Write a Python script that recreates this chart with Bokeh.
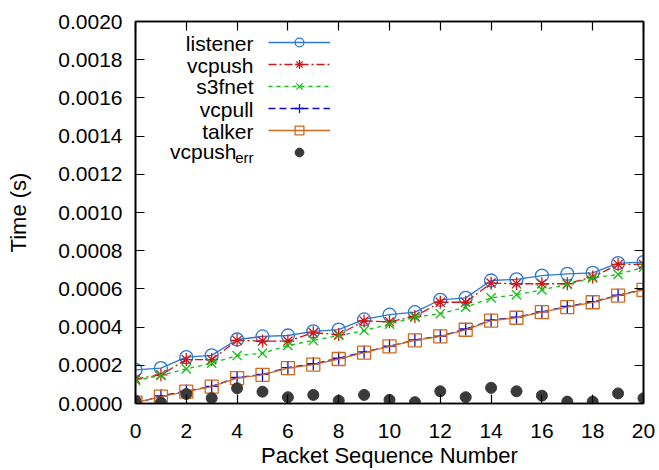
from bokeh.plotting import figure
from bokeh.models import (Range1d, LinearAxis, FixedTicker, NumeralTickFormatter,
                          Legend, LegendItem, Label)
from bokeh.embed import file_html
from bokeh.resources import INLINE

# ---- data ----
seq = list(range(21))
listener = [0.000176, 0.000185, 0.000243, 0.000252, 0.000335, 0.000351, 0.000356, 0.000378,
            0.000387, 0.000440, 0.000465, 0.000478, 0.000543, 0.000553, 0.000644, 0.000650,
            0.000670, 0.000679, 0.000684, 0.000735, 0.000740]
vcpush = [0.000129, 0.000150, 0.000230, 0.000230, 0.000330, 0.000327, 0.000327, 0.000370,
          0.000361, 0.000432, 0.000428, 0.000456, 0.000530, 0.000530, 0.000630, 0.000627,
          0.000627, 0.000627, 0.000662, 0.000728, 0.000728]
s3fnet = [0.000121, 0.000147, 0.000181, 0.000211, 0.000251, 0.000263, 0.000304, 0.000330,
          0.000356, 0.000382, 0.000415, 0.000452, 0.000470, 0.000504, 0.000553, 0.000570,
          0.000595, 0.000623, 0.000658, 0.000676, 0.000714]
vcpull = [0.000000, 0.000040, 0.000065, 0.000090, 0.000136, 0.000152, 0.000188, 0.000208,
          0.000237, 0.000270, 0.000300, 0.000333, 0.000353, 0.000390, 0.000436, 0.000452,
          0.000480, 0.000508, 0.000533, 0.000567, 0.000597]
talker = [0.000005, 0.000036, 0.000062, 0.000088, 0.000133, 0.000150, 0.000185, 0.000204,
          0.000233, 0.000266, 0.000299, 0.000330, 0.000351, 0.000386, 0.000434, 0.000449,
          0.000478, 0.000505, 0.000530, 0.000565, 0.000595]
vcpush_err = [0.000015, 0.000005, 0.000050, 0.000028, 0.000080, 0.000062, 0.000033, 0.000045,
              0.000015, 0.000045, 0.000019, 0.000007, 0.000064, 0.000033, 0.000082, 0.000064,
              0.000041, 0.000010, 0.000010, 0.000053, 0.000027]
x_ticks = list(range(0, 21, 2))
y_ticks = [0.0000, 0.0002, 0.0004, 0.0006, 0.0008, 0.0010, 0.0012, 0.0014, 0.0016, 0.0018, 0.0020]

FONT = "Liberation Sans"

p = figure(width=659, height=470, output_backend="svg", toolbar_location=None,
           x_range=Range1d(0, 20), y_range=Range1d(0, 0.002),
           min_border_left=135, min_border_right=16, min_border_top=21, min_border_bottom=67,
           x_axis_label="Packet Sequence Number", y_axis_label="Time (s)")
p.background_fill_color = "white"
p.border_fill_color = "white"
p.xgrid.visible = False
p.ygrid.visible = False
p.outline_line_color = "black"
p.outline_line_width = 1.6

for ax in p.xaxis:
    ax.ticker = FixedTicker(ticks=x_ticks)
for ax in p.yaxis:
    ax.ticker = FixedTicker(ticks=y_ticks)
    ax.formatter = NumeralTickFormatter(format="0.0000")

def style(ax):
    ax.axis_line_color = "black"
    ax.axis_line_width = 1.6
    ax.major_tick_in = 9
    ax.major_tick_out = 0
    ax.major_tick_line_color = "black"
    ax.major_tick_line_width = 1.2
    ax.minor_tick_line_color = None
    ax.major_label_text_font = FONT
    ax.major_label_text_font_size = "21px"
    ax.major_label_text_color = "black"
    ax.axis_label_text_font = FONT
    ax.axis_label_text_font_size = "22px"
    ax.axis_label_text_font_style = "normal"
    ax.axis_label_text_color = "black"

style(p.xaxis[0]); style(p.yaxis[0])
p.xaxis[0].major_label_standoff = 20
p.xaxis[0].axis_label_standoff = 2
p.yaxis[0].major_label_standoff = 13
p.yaxis[0].axis_label_standoff = 24

# mirrored inward ticks on top and right (no labels)
right = LinearAxis(ticker=FixedTicker(ticks=y_ticks),
                   major_label_overrides={t: "" for t in y_ticks})
top = LinearAxis(ticker=FixedTicker(ticks=x_ticks),
                 major_label_overrides={t: "" for t in x_ticks})
style(right); style(top)
right.major_label_standoff = 0
top.major_label_standoff = 0
p.add_layout(right, "right")
p.add_layout(top, "above")

series = [
    ("listener", listener, "#2a78d4", "solid", "circle"),
    ("vcpush", vcpush, "#d01515", "8 3 2 3", "asterisk"),
    ("s3fnet", s3fnet, "#10c010", "4 4", "x"),
    ("vcpull", vcpull, "#0a0ad0", "7 4", "cross"),
    ("talker", talker, "#cc6a1f", "solid", "square"),
]

items = []
for name, ys, color, dash, marker in series:
    lr = p.line(seq, ys, line_color=color, line_width=1.3, line_dash=dash)
    sr = p.scatter(seq, ys, marker=marker, size=13, line_color=color, fill_color=None,
                   line_width=1.3)
    items.append(LegendItem(label="", renderers=[lr, sr]))

er = p.scatter(seq, vcpush_err, marker="circle", size=11, fill_color="#3a3a3a",
               line_color="#3a3a3a")
items.append(LegendItem(label="", renderers=[er]))

legend = Legend(items=items, location=(133, 240), glyph_width=62, glyph_height=22,
                spacing=0, padding=0, margin=0, label_width=0, label_standoff=0,
                background_fill_alpha=0, border_line_alpha=0)
p.add_layout(legend, "center")

names = ["listener", "vcpush", "s3fnet", "vcpull", "talker"]
baselines = [360.5, 338.5, 317.0, 294.0, 272.4]
for nm, yb in zip(names, baselines):
    p.add_layout(Label(x=118, y=yb, x_units="screen", y_units="screen", text=nm,
                       text_align="right", text_baseline="alphabetic",
                       text_font=FONT, text_font_size="21px", text_color="black"))
p.add_layout(Label(x=101, y=252, x_units="screen", y_units="screen", text="vcpush",
                   text_align="right", text_baseline="alphabetic",
                   text_font=FONT, text_font_size="21px", text_color="black"))
p.add_layout(Label(x=118, y=246, x_units="screen", y_units="screen", text="err",
                   text_align="right", text_baseline="alphabetic",
                   text_font=FONT, text_font_size="15px", text_color="black"))

open("out.html", "w").write(file_html(p, INLINE))
